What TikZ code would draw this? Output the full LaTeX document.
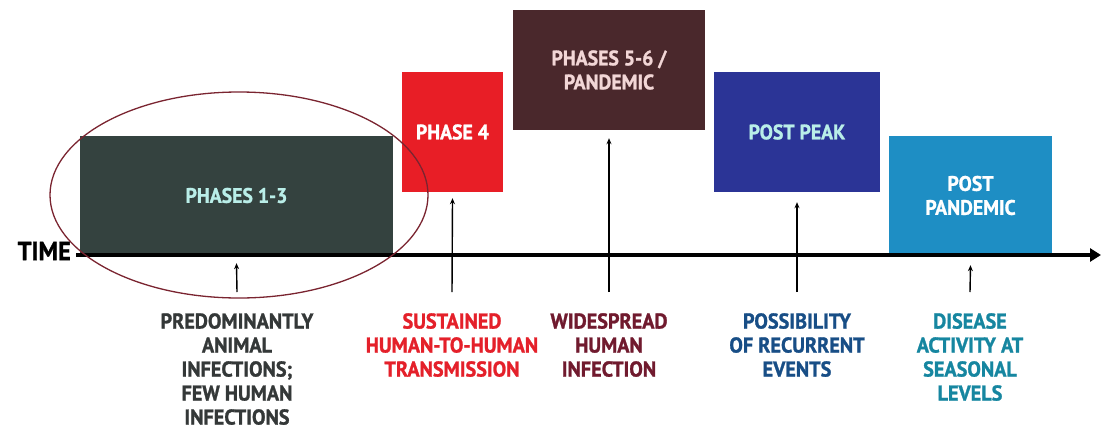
\documentclass[tikz,border=0pt]{standalone}
\usepackage{fontspec}
\setmainfont{PT Sans}[FakeStretch=0.94, BoldFeatures={FakeBold=1.2}]
\usetikzlibrary{shapes.geometric, arrows.meta}

\definecolor{phaseearly}{RGB}{52,66,63}
\definecolor{phasefour}{RGB}{232,30,38}
\definecolor{phasepand}{RGB}{74,40,44}
\definecolor{phasepeak}{RGB}{43,52,150}
\definecolor{phasepost}{RGB}{30,142,196}
\definecolor{lightcyan}{RGB}{185,238,232}
\definecolor{lightpink}{RGB}{242,214,214}
\definecolor{notegrey}{RGB}{52,56,56}
\definecolor{notered}{RGB}{228,32,42}
\definecolor{notemaroon}{RGB}{112,26,46}
\definecolor{noteblue}{RGB}{24,78,134}
\definecolor{noteteal}{RGB}{22,134,160}
\definecolor{ringred}{RGB}{122,36,48}

\tikzstyle{phasebox} = [
    rectangle,
    inner sep=0pt,
    align=center,
    font=\bfseries\fontsize{21}{24}\selectfont
]
\tikzstyle{note} = [
    anchor=north,
    inner sep=0pt,
    align=center,
    font=\bfseries\fontsize{21.5}{24}\selectfont
]
\tikzstyle{pointer} = [line width=1.4pt, -{Stealth[length=6pt,width=5pt]}]
\tikzstyle{timeline} = [line width=3.5pt, -{Triangle[length=11pt,width=13pt]}]

\begin{document}
\begin{tikzpicture}[x=1pt, y=-1pt]
\useasboundingbox (0,0) rectangle (1103,432);

% phase boxes
\node (early) [phasebox, fill=phaseearly, text=lightcyan,
    minimum width=313, minimum height=119] at (236.5,195.5) {PHASES 1-3};
\node (four) [phasebox, fill=phasefour, text=white,
    minimum width=101, minimum height=120] at (452.5,132) {PHASE 4};
\node (pand) [phasebox, fill=phasepand, text=lightpink,
    minimum width=192, minimum height=120] at (609,70) {PHASES 5-6 /\\PANDEMIC};
\node (peak) [phasebox, fill=phasepeak, text=lightcyan,
    minimum width=166, minimum height=120] at (797,132) {POST PEAK};
\node (post) [phasebox, fill=phasepost, text=white,
    minimum width=163, minimum height=119] at (970.5,195.5) {POST\\PANDEMIC};

% time axis
\coordinate (tstart) at (76,255);
\coordinate (tend) at (1101,255);
\node (time) [font=\bfseries\fontsize{26}{28}\selectfont, anchor=east, inner sep=0pt]
    at (71,251) {TIME};
\draw [timeline] (tstart) -- (tend);

% ring round the first phase
\node (ring) [ellipse, draw=ringred, line width=1.3pt,
    minimum width=378, minimum height=206] at (239,195) {};

% notes under the axis
\node (noteearly) [note, text=notegrey] at (237,313)
    {PREDOMINANTLY\\ANIMAL\\INFECTIONS;\\FEW HUMAN\\INFECTIONS};
\node (notefour) [note, text=notered] at (452,313)
    {SUSTAINED\\HUMAN-TO-HUMAN\\TRANSMISSION};
\node (notepand) [note, text=notemaroon] at (609,313)
    {WIDESPREAD\\HUMAN\\INFECTION};
\node (notepeak) [note, text=noteblue] at (797,313)
    {POSSIBILITY\\OF RECURRENT\\EVENTS};
\node (notepost) [note, text=noteteal] at (970,313)
    {DISEASE\\ACTIVITY AT\\SEASONAL\\LEVELS};

\draw [pointer] ([yshift=21pt]noteearly.north) -- ([yshift=-8pt]early.south);
\draw [pointer] ([yshift=21pt]notefour.north) -- ([yshift=-6pt]four.south);
\draw [pointer] ([yshift=21pt]notepand.north) -- ([yshift=-8pt]pand.south);
\draw [pointer] ([yshift=21pt]notepeak.north) -- ([yshift=-10pt]peak.south);
\draw [pointer] ([yshift=21pt]notepost.north) -- ([yshift=-10pt]post.south);

\end{tikzpicture}
\end{document}
